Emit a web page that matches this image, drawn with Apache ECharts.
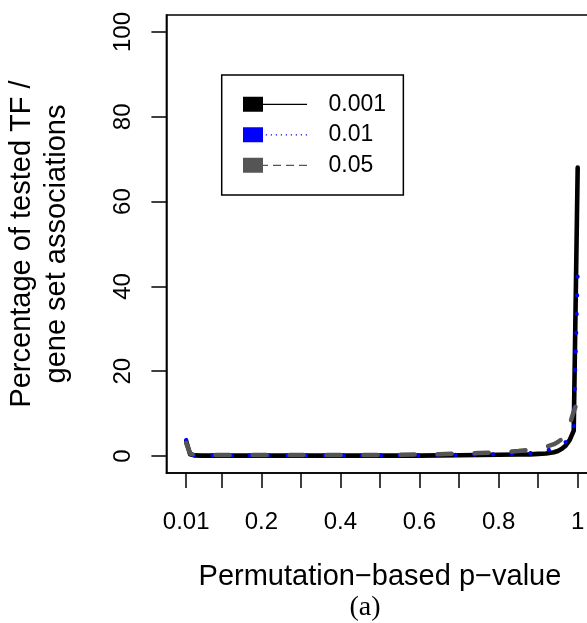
<!DOCTYPE html>
<html>
<head>
<meta charset="utf-8">
<script src="https://cdn.jsdelivr.net/npm/echarts@6/dist/echarts.min.js"></script>
<style>
html,body{margin:0;padding:0;background:#fff;}
#chart{width:587px;height:623px;}
</style>
</head>
<body>
<div id="chart"></div>
<script>
// ---- data ----
var xValues = [0.01,0.02,0.03,0.05,0.1,0.15,0.2,0.25,0.3,0.35,0.4,0.45,0.5,0.55,0.6,0.65,0.7,0.75,0.8,0.85,0.88,0.9,0.92,0.94,0.95,0.96,0.97,0.98,0.99,1.0];
var seriesNames = ['0.001','0.01','0.05'];
var s001  = [3.5,0.4,0.15,0.1,0.1,0.1,0.1,0.1,0.1,0.1,0.1,0.1,0.1,0.1,0.1,0.15,0.2,0.25,0.3,0.35,0.4,0.5,0.6,0.9,1.2,1.7,2.5,3.8,6.0,68];
var s01   = [3.8,0.4,0.2,0.15,0.15,0.15,0.15,0.15,0.15,0.15,0.15,0.15,0.15,0.18,0.2,0.25,0.3,0.35,0.45,0.6,0.7,0.9,1.3,1.8,2.1,2.6,3.3,4.3,5.8,43];
var s05   = [3.1,0.6,0.3,0.25,0.25,0.25,0.25,0.25,0.25,0.25,0.25,0.25,0.25,0.3,0.35,0.45,0.55,0.7,0.9,1.2,1.5,1.8,2.2,2.8,3.3,4.0,5.0,7.5,10.5,13];
var xTicks = [0.01,0.1,0.2,0.3,0.4,0.5,0.6,0.7,0.8,0.9,1.0];
var xTickLabels = [0.01,0.2,0.4,0.6,0.8,1];
var yTicks = [0,20,40,60,80,100];

function pairs(arr){ return xValues.map(function(x,i){ return [x, arr[i]]; }); }

var FONT = '"Liberation Sans", Arial, Helvetica, sans-serif';

var iconSolid = 'path://M0,0H20V15H0Z M20,6.9H64V8.1H20Z';
var dots = '';
for (var k = 0; k < 9; k++) { var x0 = 22.8 + 5*k; dots += ' M' + x0 + ',6.9H' + (x0+1.2) + 'V8.1H' + x0 + 'Z'; }
var iconDotted = 'path://M0,0H20V15H0Z' + dots;
var iconDashed = 'path://M0,0H20V15H0Z M20,6.9H25V8.1H20Z M30,6.9H38V8.1H30Z M43,6.9H51V8.1H43Z M56,6.9H64V8.1H56Z';

var chart = echarts.init(document.getElementById('chart'), null, {renderer:'canvas'});
chart.setOption({
  animation: false,
  backgroundColor: '#ffffff',
  textStyle: {fontFamily: FONT, color: '#000'},
  title: {
    text: '(a)',
    left: 365, top: 594,
    textAlign: 'center',
    padding: 0,
    textStyle: {fontFamily: '"Liberation Serif", "Times New Roman", serif', fontSize: 28, fontWeight: 'normal', color: '#000'}
  },
  grid: {
    left: 166.4, right: -6.5, top: 15, bottom: 150,
    show: true, borderColor: '#000', borderWidth: 1.5,
    outerBoundsMode: 'none', containLabel: false
  },
  legend: {
    orient: 'vertical',
    left: 221.7, top: 75,
    padding: [17.8, 17.3, 18.2, 21.3],
    itemGap: 7.5,
    itemWidth: 64, itemHeight: 15,
    borderColor: '#000', borderWidth: 1.5,
    selectedMode: false,
    textStyle: {fontFamily: FONT, fontSize: 23, color: '#000', padding: [0,0,0,16.5]},
    data: [
      {name: seriesNames[0], icon: iconSolid,  itemStyle: {color: '#000000', borderWidth: 0}},
      {name: seriesNames[1], icon: iconDotted, itemStyle: {color: '#0000ff', borderWidth: 0}},
      {name: seriesNames[2], icon: iconDashed, itemStyle: {color: '#555555', borderWidth: 0}}
    ]
  },
  xAxis: {
    type: 'value', min: -0.04, max: 1.04,
    name: 'Permutation\u2212based p\u2212value',
    nameLocation: 'middle', nameGap: 89,
    nameTextStyle: {fontFamily: FONT, fontSize: 29, color: '#000'},
    axisLine: {show: true, onZero: false, lineStyle: {color: '#000', width: 1.5}},
    axisTick: {show: true, length: 15, inside: false, customValues: xTicks, lineStyle: {color: '#000', width: 1.5}},
    axisLabel: {show: true, margin: 37.5, customValues: xTickLabels, fontFamily: FONT, fontSize: 24, color: '#000',
      formatter: function(v){ return String(v); }},
    splitLine: {show: false}
  },
  yAxis: {
    type: 'value', min: -4, max: 104,
    name: 'Percentage of tested TF /\ngene set associations',
    nameLocation: 'middle', nameGap: 91.5,
    nameTextStyle: {fontFamily: FONT, fontSize: 29, lineHeight: 35, color: '#000', align: 'center'},
    axisLine: {show: true, onZero: false, lineStyle: {color: '#000', width: 1.5}},
    axisTick: {show: true, length: 15, inside: false, customValues: yTicks, lineStyle: {color: '#000', width: 1.5}},
    axisLabel: {show: true, margin: 31.5, rotate: 90, customValues: yTicks, fontFamily: FONT, fontSize: 24, color: '#000'},
    splitLine: {show: false}
  },
  series: [
    {name: seriesNames[0], type: 'line', data: pairs(s001), symbol: 'none', showSymbol: false,
     color: '#000000', lineStyle: {color: '#000000', width: 4.6, type: 'solid', cap: 'round', join: 'round'}},
    {name: seriesNames[1], type: 'line', data: pairs(s01), symbol: 'none', showSymbol: false,
     color: '#0000ff', lineStyle: {color: '#0000ff', width: 4.2, type: [0.1, 18.6], cap: 'round', join: 'round'}},
    {name: seriesNames[2], type: 'line', data: pairs(s05), symbol: 'none', showSymbol: false,
     color: '#555555', lineStyle: {color: '#555555', width: 4.5, type: [14, 23], cap: 'round', join: 'round'}}
  ]
});
</script>
</body>
</html>
